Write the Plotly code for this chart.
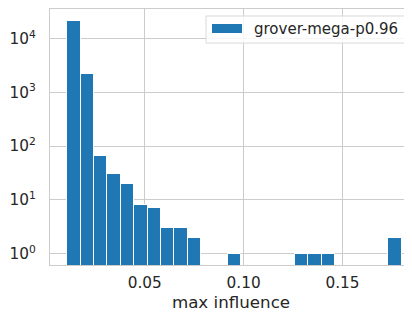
import numpy as np
import plotly.graph_objects as go

# Histogram data (25 equal bins)
bin_min = 0.0108
bin_max = 0.1800
counts = [21400, 2190, 66, 30, 20, 8, 7, 3, 3, 2, 0, 0, 1, 0, 0, 0, 0, 1, 1, 1, 0, 0, 0, 0, 2]
series_name = "grover-mega-p0.96"
x_tick_vals = [0.05, 0.10, 0.15]
x_tick_text = ["0.05", "0.10", "0.15"]
y_tick_vals = [1, 10, 100, 1000, 10000]
y_tick_text = ["10<sup>0</sup>", "10<sup>1</sup>", "10<sup>2</sup>", "10<sup>3</sup>", "10<sup>4</sup>"]

edges = np.linspace(bin_min, bin_max, len(counts) + 1)
centers = (edges[:-1] + edges[1:]) / 2
width = edges[1] - edges[0]
yvals = [c if c > 0 else None for c in counts]

font = "DejaVu Sans"
txt = "#262626"
grid = "#cccccc"
bar_color = "#1f77b4"

fig = go.Figure()
fig.add_trace(go.Bar(
    x=centers, y=yvals, width=width, name=series_name,
    marker=dict(color=bar_color, line=dict(color="white", width=1)),
    showlegend=False,
))

# matplotlib-style legend box (drawn in paper coordinates)
fig.add_shape(type="rect", xref="paper", yref="paper",
              x0=0.431, x1=0.9945, y0=0.867, y1=0.9727,
              fillcolor="rgba(255,255,255,0.8)", line=dict(color="#d9d9d9", width=1), layer="above")
fig.add_shape(type="rect", xref="paper", yref="paper",
              x0=0.4475, x1=0.5304, y0=0.9063, y1=0.9414,
              fillcolor=bar_color, line=dict(width=0), layer="above")
fig.add_annotation(text=series_name, xref="paper", yref="paper",
                   x=0.559, y=0.921, xanchor="left", yanchor="middle", showarrow=False,
                   font=dict(family=font, size=15, color=txt))

fig.update_layout(
    width=404, height=304,
    margin=dict(l=42, r=0, t=1, b=47, autoexpand=False),
    paper_bgcolor="white", plot_bgcolor="white",
    font=dict(family=font, color=txt, size=15),
    bargap=0,
    showlegend=False,
)
fig.update_xaxes(
    range=[0.00205, 0.18516],
    tickvals=x_tick_vals, ticktext=x_tick_text,
    showgrid=True, gridcolor=grid, gridwidth=1.2,
    showline=True, linecolor=grid, linewidth=1.25, mirror=True,
    ticks="", zeroline=False, automargin=False,
    tickfont=dict(family=font, size=15.3, color=txt),
    ticklabelstandoff=4,
    title=dict(text="max influence", font=dict(family=font, size=16.7, color=txt), standoff=2),
)
fig.update_yaxes(
    type="log", range=[-0.21, 4.55],
    tickvals=y_tick_vals, ticktext=y_tick_text,
    showgrid=True, gridcolor=grid, gridwidth=1.2,
    showline=True, linecolor=grid, linewidth=1.25, mirror=True,
    ticks="", zeroline=False, automargin=False,
    tickfont=dict(family=font, size=15.3, color=txt),
    ticklabelstandoff=10,
)

fig.write_html("out.html")
